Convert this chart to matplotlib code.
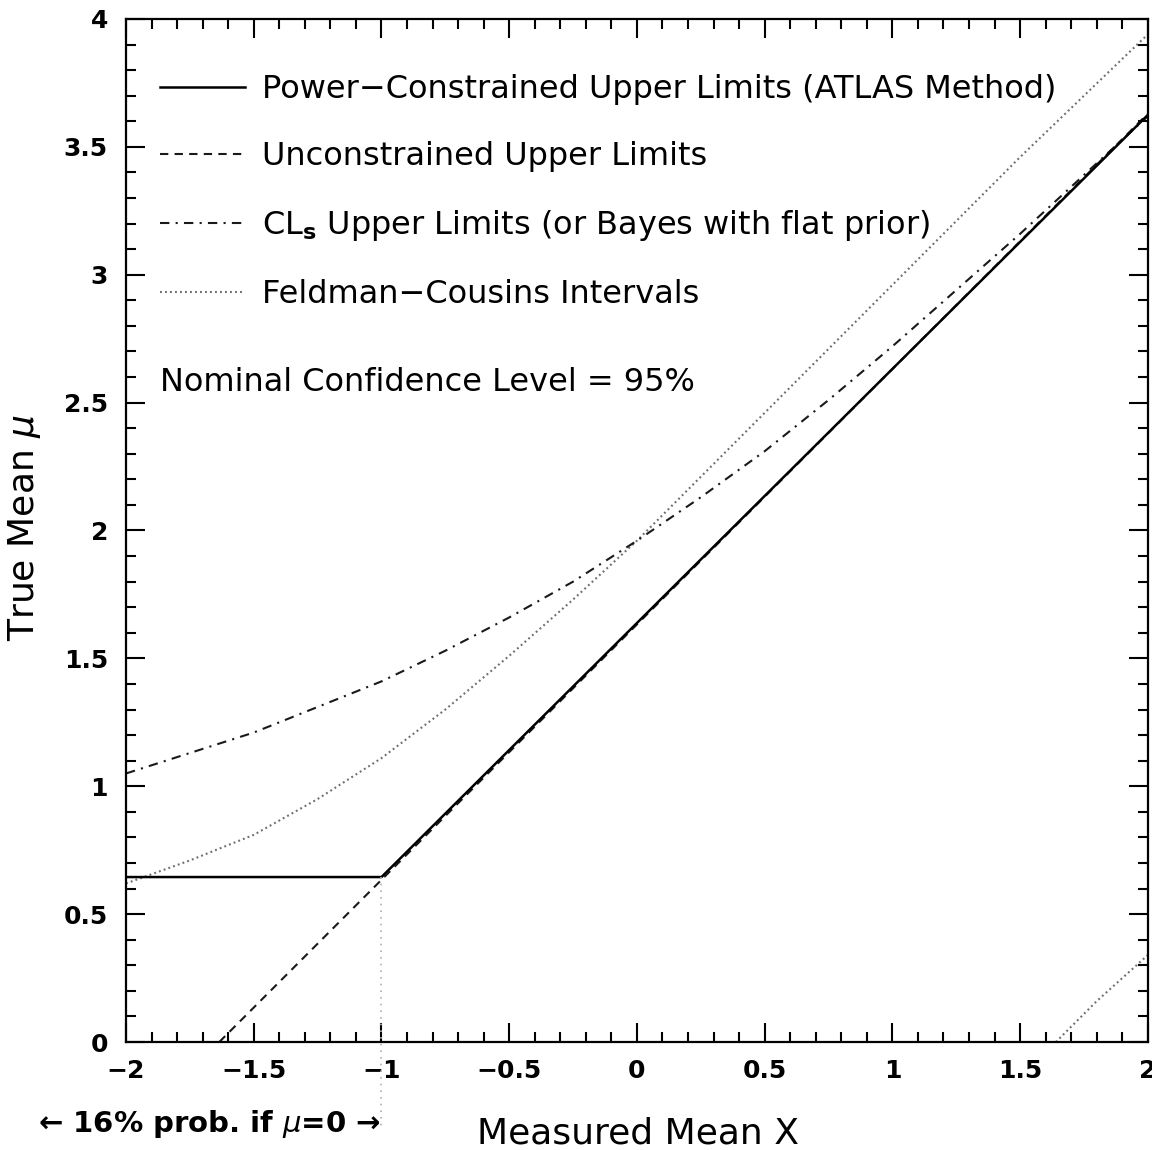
import matplotlib
matplotlib.use("Agg")
import matplotlib.pyplot as plt
from matplotlib.ticker import MultipleLocator

# Power-constrained limit: flat below x=-1, then follows the unconstrained line
pcl_x = [-2.0, -1.0, 2.0]
pcl_y = [0.645, 0.645, 3.625]

# Unconstrained upper limit
ucl_x = [-1.635, 2.0]
ucl_y = [0.0, 3.63]

# CLs upper limits
cls_x = [-2.0, -1.75, -1.5, -1.25, -1.0, -0.75, -0.5, -0.25, 0.0,
         0.25, 0.5, 0.75, 1.0, 1.25, 1.5, 1.75, 2.0]
cls_y = [1.05, 1.13, 1.21, 1.31, 1.41, 1.53, 1.66, 1.80, 1.96,
         2.13, 2.31, 2.51, 2.72, 2.94, 3.16, 3.39, 3.62]

# Feldman-Cousins interval, upper and lower edges
fc_up_x = [-2.0, -1.75, -1.5, -1.25, -1.0, -0.75, -0.5, -0.25, 0.0,
           0.25, 0.5, 0.75, 1.0, 1.25, 1.5, 1.75, 2.0]
fc_up_y = [0.62, 0.71, 0.81, 0.95, 1.11, 1.30, 1.51, 1.73, 1.96,
           2.21, 2.46, 2.71, 2.96, 3.21, 3.46, 3.70, 3.94]
fc_lo_x = [1.64, 1.8, 2.0]
fc_lo_y = [0.0, 0.16, 0.34]

xtick_vals = [-2, -1.5, -1, -0.5, 0, 0.5, 1, 1.5, 2]
xtick_txt = ["\u22122", "\u22121.5", "\u22121", "\u22120.5", "0", "0.5", "1", "1.5", "2"]
ytick_vals = [0, 0.5, 1, 1.5, 2, 2.5, 3, 3.5, 4]
ytick_txt = ["0", "0.5", "1", "1.5", "2", "2.5", "3", "3.5", "4"]

fig = plt.figure(figsize=(11.52, 11.5), dpi=100)
ax = fig.add_axes([0.1094, 0.0939, 0.887, 0.8896])

grey = "#6e6e6e"
ax.plot(fc_up_x, fc_up_y, color=grey, lw=1.5, dashes=(0.9, 1.5),
        label="Feldman\u2212Cousins Intervals")
ax.plot(fc_lo_x, fc_lo_y, color=grey, lw=1.5, dashes=(0.9, 1.5))
ax.plot(cls_x, cls_y, color="#1a1a1a", lw=1.5, dashes=(4.5, 3.0, 1.0, 3.0),
        label=r"CL$_\mathbf{s}$ Upper Limits (or Bayes with flat prior)")
ax.plot(ucl_x, ucl_y, color="#1a1a1a", lw=1.5, dashes=(4.0, 3.0),
        label="Unconstrained Upper Limits")
ax.plot(pcl_x, pcl_y, color="black", lw=1.8,
        label="Power\u2212Constrained Upper Limits (ATLAS Method)")

# dotted guide at x=-1 reaching down to the annotation
ax.plot([-1.0, -1.0], [0.645, -0.34], color="#b0b0b0", lw=1.2,
        dashes=(1.0, 3.0), clip_on=False)

ax.set_xlim(-2, 2)
ax.set_ylim(0, 4)
ax.xaxis.set_minor_locator(MultipleLocator(0.1))
ax.yaxis.set_minor_locator(MultipleLocator(0.1))
ax.set_xticks(xtick_vals)
ax.set_xticklabels(xtick_txt)
ax.set_yticks(ytick_vals)
ax.set_yticklabels(ytick_txt)
ax.tick_params(which="both", direction="in", top=True, right=True, width=1.5)
ax.tick_params(which="major", length=14, labelsize=18)
ax.tick_params(which="minor", length=7)
ax.tick_params(axis="x", pad=12)
ax.tick_params(axis="y", pad=13)
for lab in ax.get_xticklabels() + ax.get_yticklabels():
    lab.set_fontweight("bold")
for s in ax.spines.values():
    s.set_linewidth(1.6)

fig.text(638 / 1152, 1 - 1133 / 1150, "Measured Mean X", fontsize=26,
         ha="center", va="center")
fig.text(25 / 1152, 1 - 528 / 1150, r"True Mean $\mu$", fontsize=26,
         rotation=90, ha="center", va="center")

handles, labels = ax.get_legend_handles_labels()
order = [3, 2, 1, 0]
ax.legend([handles[i] for i in order], [labels[i] for i in order],
          loc="upper left", bbox_to_anchor=(0.0176, 0.962), frameon=False,
          fontsize=23, handlelength=2.66, handletextpad=0.53, labelspacing=1.13,
          borderaxespad=0.0, borderpad=0.5)

ax.text(0.033, 0.645, "Nominal Confidence Level = 95%", transform=ax.transAxes,
        fontsize=23, va="center", ha="left")

fig.text(38 / 1152, 1 - 1124 / 1150, "\u2190 16% prob. if $\\mu$=0 \u2192",
         fontsize=21, fontweight="bold", va="center", ha="left")

fig.savefig("out.png", dpi=100)
